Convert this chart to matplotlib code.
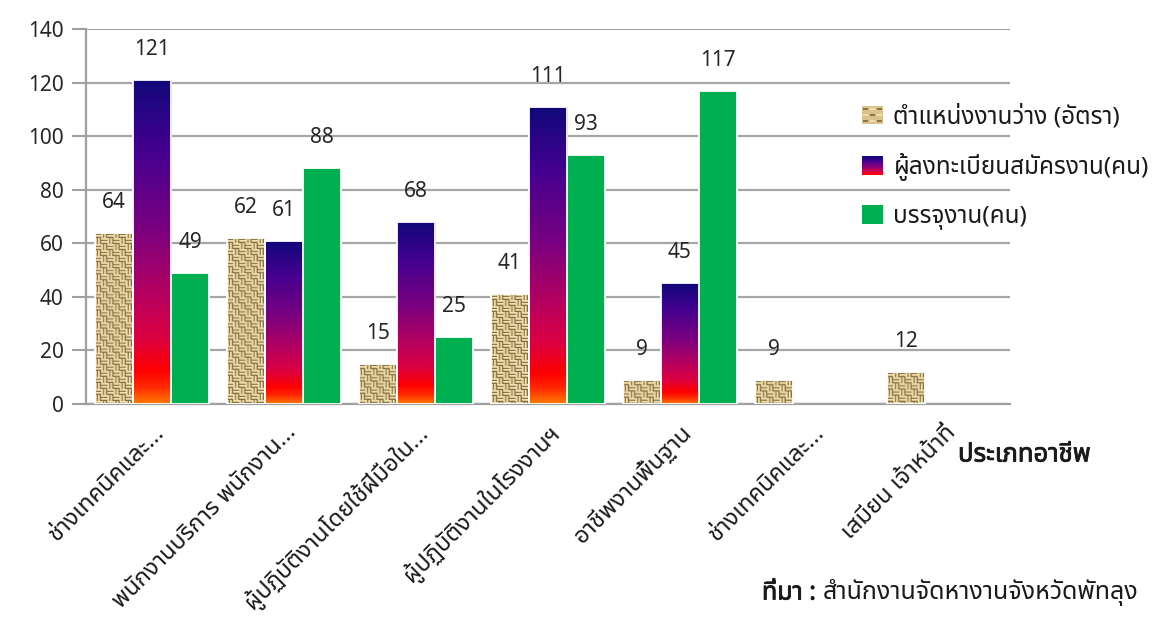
import numpy as np
import matplotlib
matplotlib.use("Agg")
import matplotlib.pyplot as plt
from matplotlib import font_manager as fm
from matplotlib.ft2font import FT2Font
from matplotlib.colors import LinearSegmentedColormap
from matplotlib.patches import Rectangle
from matplotlib.legend_handler import HandlerBase
import matplotlib.patheffects as pe

# ---------------- data ----------------
categories = [
    "ช่างเทคนิคและ...",
    "พนักงานบริการ พนักงาน...",
    "ผู้ปฏิบัติงานโดยใช้ฝีมือใน...",
    "ผู้ปฏิบัติงานในโรงงานฯ",
    "อาชีพงานพื้นฐาน",
    "ช่างเทคนิคและ...",
    "เสมียน เจ้าหน้าที่",
]
series_names = ["ตำแหน่งงานว่าง (อัตรา)", "ผู้ลงทะเบียนสมัครงาน(คน)", "บรรจุงาน(คน)"]
vacancies = [64, 62, 15, 41, 9, 9, 12]
registrants = [121, 61, 68, 111, 45, np.nan, np.nan]
placements = [49, 88, 25, 93, 117, np.nan, np.nan]
y_ticks = [0, 20, 40, 60, 80, 100, 120, 140]
x_title = "ประเภทอาชีพ"
source_bold = "ที่มา :"
source_text = "สำนักงานจัดหางานจังหวัดพัทลุง"

# ---------------- fonts ----------------
def find_thai_font():
    prefs = ["Noto Sans Thai", "Noto Sans Thai UI", "Loma", "Garuda", "Sarabun",
             "Tlwg Typo", "Kinnari", "Norasi", "Waree", "Umpush", "Laksaman"]
    found = {}
    for f in fm.fontManager.ttflist:
        try:
            cm = FT2Font(f.fname).get_charmap()
        except Exception:
            continue
        if 0x0E01 in cm and 0x0E33 in cm and 0x0E48 in cm:
            found.setdefault(f.name, f.fname)
    for p in prefs:
        if p in found:
            return p
    if found:
        return sorted(found)[0]
    return None

thai = find_thai_font()
fams = ([thai] if thai else []) + ["DejaVu Sans"]
plt.rcParams["font.family"] = fams
num_font = ["Noto Sans", "DejaVu Sans"]
bold_fx = [pe.withStroke(linewidth=0.6, foreground="#1a1a1a")]

# ---------------- figure ----------------
W, H = 1168, 621
fig = plt.figure(figsize=(W / 100, H / 100), dpi=100)
ax = fig.add_axes([86 / W, 1 - 404 / H, (1010 - 86) / W, (404 - 29) / H])

x = np.arange(len(categories))
bw = 0.29
off = 0.29
ax.set_xlim(-0.5, len(categories) - 0.5)
ax.set_ylim(0, 140)

green = "#00b050"
b1 = ax.bar(x - off, vacancies, bw, color="#d9c28c", edgecolor="white", linewidth=1.3, zorder=3)
b2 = ax.bar(x, registrants, bw, color="#7a0080", edgecolor="white", linewidth=1.3, zorder=3)
b3 = ax.bar(x + off, placements, bw, color=green, edgecolor="white", linewidth=1.3, zorder=3)

# gradient for registrants (per bar)
grad_cmap = LinearSegmentedColormap.from_list("grad", [
    (0.00, "#ff7a00"), (0.05, "#ff2a00"), (0.10, "#ff0000"), (0.20, "#dc0040"),
    (0.33, "#b8005e"), (0.54, "#7a0080"), (0.78, "#450090"), (1.00, "#10087a")])
gradient = np.linspace(0, 1, 256).reshape(-1, 1)
for r in b2:
    h = r.get_height()
    if not np.isfinite(h) or h <= 0:
        continue
    xx = r.get_x()
    ww = r.get_width()
    im = ax.imshow(gradient, extent=[xx, xx + ww, 0, h], origin="lower", cmap=grad_cmap,
                   aspect="auto", interpolation="bilinear", zorder=3.1)
    im.set_clip_path(r)
    r.set_facecolor("none")
    r.set_zorder(3.2)

# burlap-like basket-weave texture for vacancies
hb = np.array([0.92, 0.75, 0.25, 0.95, 0.70, 0.20])
blk_h = np.tile(hb.reshape(-1, 1), (1, 6))          # horizontal threads
blk_v = blk_h.T                                      # vertical threads
tile = np.block([[blk_h, blk_v], [blk_v, blk_h]])
tex_cmap = LinearSegmentedColormap.from_list("tex", ["#5e4820", "#9c8450", "#d8c08a", "#f4e6bc"])
for r in b1:
    h = r.get_height()
    xx = r.get_x()
    ww = r.get_width()
    (px0, py0), (px1, py1) = ax.transData.transform([(xx, 0), (xx + ww, h)])
    nc = max(1, int(round(px1 - px0)))
    nr = max(1, int(round(py1 - py0)))
    rr, cc = np.meshgrid(np.arange(nr), np.arange(nc), indexing="ij")
    img = tile[rr % 12, cc % 12]
    im = ax.imshow(img, extent=[xx, xx + ww, 0, h], origin="upper", cmap=tex_cmap,
                   vmin=0, vmax=1, aspect="auto", interpolation="bilinear", zorder=3.1)
    im.set_clip_path(r)
    r.set_facecolor("none")
    r.set_zorder(3.2)

ax.set_xlim(-0.5, len(categories) - 0.5)
ax.set_ylim(0, 140)

# value labels
for bars in (b1, b2, b3):
    for r in bars:
        h = r.get_height()
        if not np.isfinite(h) or h <= 0:
            continue
        ax.annotate(f"{int(h)}", (r.get_x() + r.get_width() / 2, h),
                    xytext=(0, 25), textcoords="offset pixels", ha="center", va="baseline",
                    fontsize=15, color="#262626", family=num_font, zorder=5)

# axes styling
ax.set_yticks(y_ticks)
ax.set_yticklabels([str(v) for v in y_ticks], family=num_font, fontsize=15, color="#262626")
ax.tick_params(axis="y", length=10, width=1.5, color="#a0a0a0", pad=6)
ax.yaxis.grid(True, color="#a6a6a6", linewidth=1.6)
ax.set_axisbelow(True)
for s in ("top", "right"):
    ax.spines[s].set_visible(False)
for s in ("left", "bottom"):
    ax.spines[s].set_color("#a0a0a0")
    ax.spines[s].set_linewidth(1.6)

ax.set_xticks(x)
ax.set_xticklabels(categories, rotation=45, ha="right", rotation_mode="anchor",
                   fontsize=17, color="#1a1a1a")
ax.tick_params(axis="x", length=0, pad=12)

# axis title and source
fig.text(958 / W, 1 - 455 / H, x_title, fontsize=18.5, ha="left", va="center",
         color="#1a1a1a", path_effects=bold_fx)
t1 = fig.text(762 / W, 1 - 593 / H, source_bold + " ", fontsize=18,
              ha="left", va="center", color="#1a1a1a", path_effects=bold_fx)
fig.canvas.draw()
bb = t1.get_window_extent()
fig.text(bb.x1 / W, 1 - 593 / H, source_text, fontsize=18, ha="left", va="center", color="#1a1a1a")

# legend
class GradHandler(HandlerBase):
    def create_artists(self, legend, orig_handle, xdescent, ydescent, width, height, fontsize, trans):
        n = 16
        arts = []
        for k in range(n):
            c = grad_cmap(1 - k / (n - 1) * 0.9)
            y0 = -ydescent + height * (1 - (k + 1) / n)
            arts.append(Rectangle((-xdescent, y0), width, height / n + 0.2, facecolor=c,
                                  edgecolor="none", transform=trans))
        return arts

class TexHandler(HandlerBase):
    def create_artists(self, legend, orig_handle, xdescent, ydescent, width, height, fontsize, trans):
        arts = [Rectangle((-xdescent, -ydescent), width, height, facecolor="#d9c28c",
                          edgecolor="none", transform=trans)]
        for k in range(3):
            for j in range(3):
                col = "#8a7445" if (k + j) % 2 == 0 else "#f0e0b0"
                arts.append(Rectangle((-xdescent + width * (j / 3 + 0.05), -ydescent + height * (k / 3 + 0.1)),
                                      width * 0.25, height * 0.12, facecolor=col, edgecolor="none",
                                      transform=trans))
        return arts

h1 = Rectangle((0, 0), 1, 1, facecolor="#d9c28c")
h2 = Rectangle((0, 0), 1, 1, facecolor="#7a0080")
h3 = Rectangle((0, 0), 1, 1, facecolor=green, edgecolor="none")
leg = fig.legend([h1, h2, h3], series_names, loc="upper left",
                 bbox_to_anchor=(840 / W, 1 - 83 / H), frameon=False, fontsize=17.5,
                 handlelength=0.85, handleheight=0.8, handletextpad=0.45, labelspacing=0.98,
                 handler_map={h1: TexHandler(), h2: GradHandler()})
for t in leg.get_texts():
    t.set_color("#1a1a1a")

fig.savefig("out.png", dpi=100, facecolor="white")
